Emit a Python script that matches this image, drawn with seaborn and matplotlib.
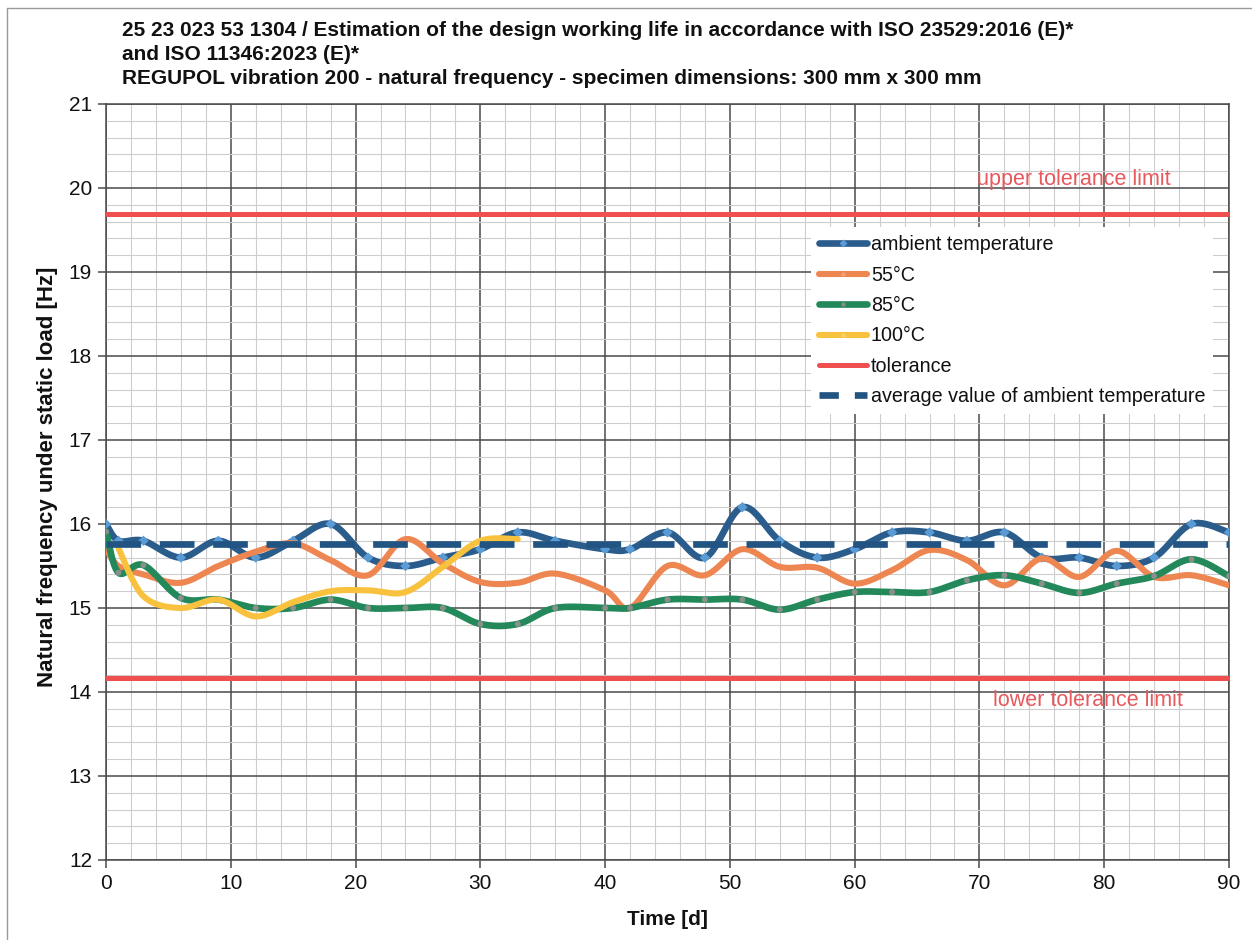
import numpy as np
import matplotlib
matplotlib.use("Agg")
import matplotlib.pyplot as plt
from matplotlib.lines import Line2D
from matplotlib.ticker import MultipleLocator
import seaborn as sns

# --- Data ---
days_amb = [0, 1, 3, 6, 9, 12, 15, 18, 21, 24, 27, 30, 33, 36, 40, 42, 45, 48, 51, 54,
            57, 60, 63, 66, 69, 72, 75, 78, 81, 84, 87, 90]
ambient = [16.0, 15.8, 15.8, 15.6, 15.8, 15.6, 15.8, 16.0, 15.6, 15.5, 15.6, 15.7, 15.9, 15.8,
           15.7, 15.7, 15.9, 15.6, 16.2, 15.8, 15.6, 15.7, 15.9, 15.9, 15.8, 15.9, 15.6, 15.6,
           15.5, 15.6, 16.0, 15.9]
t55 = [15.7, 15.5, 15.4, 15.3, 15.5, 15.67, 15.77, 15.57, 15.39, 15.82, 15.53, 15.31, 15.3,
       15.41, 15.21, 15.0, 15.5, 15.39, 15.7, 15.49, 15.48, 15.29, 15.45, 15.69, 15.57, 15.27,
       15.59, 15.37, 15.68, 15.37, 15.39, 15.27]
t85 = [15.91, 15.42, 15.51, 15.12, 15.1, 15.0, 15.0, 15.1, 15.0, 15.0, 15.0, 14.81, 14.81,
       15.0, 15.0, 15.0, 15.1, 15.1, 15.1, 14.98, 15.1, 15.19, 15.19, 15.19, 15.33, 15.39,
       15.29, 15.18, 15.29, 15.38, 15.58, 15.38]
days_100 = [1, 3, 6, 9, 12, 15, 18, 21, 24, 27, 30, 33]
t100 = [15.71, 15.14, 15.0, 15.1, 14.9, 15.07, 15.2, 15.21, 15.19, 15.49, 15.8, 15.82]
upper_tol = 19.69
lower_tol = 14.17
avg_ambient = float(np.mean(ambient))

labels = ["ambient temperature", "55°C", "85°C", "100°C", "tolerance",
          "average value of ambient temperature"]

c_amb = "#2a5c8c"
c_amb_mk = "#5b9bd5"
c_55 = "#ee8652"
c_85 = "#23885a"
c_100 = "#f8c23e"
c_tol = "#ef4f4f"
c_avg = "#215482"


def smooth(x, y, n=24):
    # Excel-like smoothed line (Catmull-Rom / Bezier through the points)
    p = np.column_stack([x, y]).astype(float)
    p = np.vstack([p[0], p, p[-1]])
    out = []
    t = np.linspace(0, 1, n)[:, None]
    for i in range(1, len(p) - 2):
        p0, p1, p2, p3 = p[i - 1], p[i], p[i + 1], p[i + 2]
        c1 = p1 + (p2 - p0) / 6
        c2 = p2 - (p3 - p1) / 6
        seg = ((1 - t) ** 3) * p1 + 3 * ((1 - t) ** 2) * t * c1 + 3 * (1 - t) * t ** 2 * c2 + t ** 3 * p2
        out.append(seg if i == 1 else seg[1:])
    out = np.vstack(out)
    return out[:, 0], out[:, 1]


sns.set_theme(style="white")
plt.rcParams["font.family"] = ["Liberation Sans", "DejaVu Sans"]

fig = plt.figure(figsize=(12.52, 9.4), dpi=100)
ax = fig.add_axes([106 / 1252, 1 - 860 / 940, 1123 / 1252, 756 / 940])

# grid
ax.set_xlim(0, 90)
ax.set_ylim(12, 21)
ax.xaxis.set_major_locator(MultipleLocator(10))
ax.xaxis.set_minor_locator(MultipleLocator(2))
ax.yaxis.set_major_locator(MultipleLocator(1))
ax.yaxis.set_minor_locator(MultipleLocator(0.2))
ax.grid(which="major", color="#4a4a4a", lw=1.1)
ax.grid(which="minor", color="#cdcdcd", lw=0.8)
ax.set_axisbelow(True)
for s in ax.spines.values():
    s.set_color("#4a4a4a")
    s.set_linewidth(1.1)
ax.tick_params(which="major", direction="out", length=6, width=1.1, color="#4a4a4a",
               labelsize=15, pad=4, left=True, bottom=True, labelcolor="#111111")
ax.tick_params(which="minor", length=0)

# series
xs, ys = smooth(days_amb, ambient)
sns.lineplot(x=xs, y=ys, sort=False, estimator=None, color=c_amb, lw=4.8, ax=ax, zorder=3)
sns.scatterplot(x=days_amb, y=ambient, marker="D", s=28, color=c_amb_mk, edgecolor="none", ax=ax, zorder=4)

xs, ys = smooth(days_amb, t55)
sns.lineplot(x=xs, y=ys, sort=False, estimator=None, color=c_55, lw=4.4, ax=ax, zorder=5)

xs, ys = smooth(days_amb, t85)
sns.lineplot(x=xs, y=ys, sort=False, estimator=None, color=c_85, lw=4.8, ax=ax, zorder=6)
sns.scatterplot(x=days_amb, y=t85, marker="o", s=18, color="#8a8f8c", edgecolor="none", ax=ax, zorder=7)

xs, ys = smooth(days_100, t100)
sns.lineplot(x=xs, y=ys, sort=False, estimator=None, color=c_100, lw=4.4, ax=ax, zorder=8)

ax.plot([0, 90], [upper_tol, upper_tol], color=c_tol, lw=3.6, zorder=9)
ax.plot([0, 90], [lower_tol, lower_tol], color=c_tol, lw=3.6, zorder=9)
ax.plot([0, 90], [avg_ambient, avg_ambient], color=c_avg, lw=4.8, ls=(0, (5.2, 2.8)), zorder=10)

ax.text(77.6, 20.1, "upper tolerance limit", color="#e8585c", fontsize=15.5, ha="center", va="center")
ax.text(78.7, 13.9, "lower tolerance limit", color="#e8585c", fontsize=15.5, ha="center", va="center")

handles = [
    Line2D([], [], color=c_amb, lw=4.8, marker="D", ms=4, mfc=c_amb_mk, mec="none"),
    Line2D([], [], color=c_55, lw=4.4, marker="o", ms=3, mfc="#f4a47a", mec="none"),
    Line2D([], [], color=c_85, lw=4.8, marker="o", ms=3, mfc="#8a8f8c", mec="none"),
    Line2D([], [], color=c_100, lw=4.4, marker="o", ms=3, mfc="#f8d070", mec="none"),
    Line2D([], [], color=c_tol, lw=3.6),
    Line2D([], [], color=c_avg, lw=4.8, ls=(0, (2.9, 2.4))),
]
leg = ax.legend(handles, labels, loc="upper left", bbox_to_anchor=(0.619, 0.850), frameon=True,
                fontsize=14.2, handlelength=2.44, handletextpad=0.2, labelspacing=0.58,
                borderpad=0.4, numpoints=1)
leg.get_frame().set_facecolor("white")
leg.get_frame().set_edgecolor("none")
leg.get_frame().set_alpha(1)
leg.set_zorder(20)
for txt in leg.get_texts():
    txt.set_color("#111111")

ax.set_xlabel("Time [d]", fontsize=15, fontweight="bold", labelpad=12, color="#111111")
ax.set_ylabel("Natural frequency under static load [Hz]", fontsize=16, fontweight="bold",
              labelpad=8, color="#111111")
ax.yaxis.label.set_y(0.5 + 5 / 756)

fig.text(122 / 1252, 1 - 30 / 940,
         "25 23 023 53 1304 / Estimation of the design working life in accordance with ISO 23529:2016 (E)*",
         fontsize=15, fontweight="bold", va="center", ha="left", color="#111111")
fig.text(122 / 1252, 1 - 54 / 940, "and ISO 11346:2023 (E)*",
         fontsize=15, fontweight="bold", va="center", ha="left", color="#111111")
fig.text(122 / 1252, 1 - 78 / 940,
         "REGUPOL vibration 200 - natural frequency - specimen dimensions: 300 mm x 300 mm",
         fontsize=15, fontweight="bold", va="center", ha="left", color="#111111")

# thin frame of the scanned page
fig.add_artist(Line2D([7 / 1252, 7 / 1252], [0, 1 - 8 / 940], transform=fig.transFigure, color="#9a9a9a", lw=1))
fig.add_artist(Line2D([7 / 1252, 1], [1 - 8 / 940, 1 - 8 / 940], transform=fig.transFigure, color="#9a9a9a", lw=1))

fig.savefig("out.png", dpi=100)
